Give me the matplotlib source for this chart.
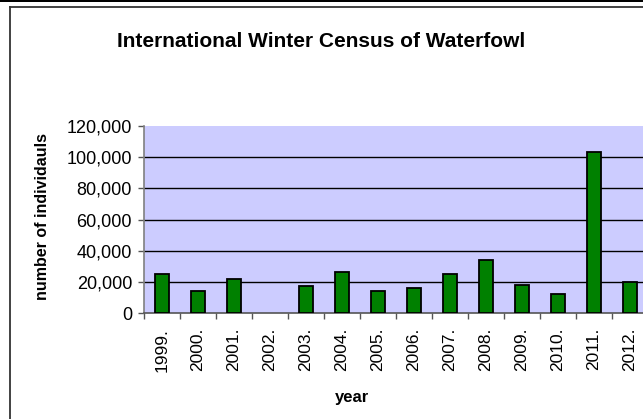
import matplotlib
matplotlib.use('Agg')
import matplotlib.pyplot as plt
import numpy as np
from matplotlib.lines import Line2D
from matplotlib.patches import Rectangle

years = ['1999.', '2000.', '2001.', '2002.', '2003.', '2004.', '2005.',
         '2006.', '2007.', '2008.', '2009.', '2010.', '2011.', '2012.']
# 2002 has no value
counts = [24900, 14600, 21900, np.nan, 17400, 26600, 14600,
          16300, 24900, 34400, 18300, 12600, 103200, 19900]
yticks = [0, 20000, 40000, 60000, 80000, 100000, 120000]

W, H = 643, 419
plt.rcParams['font.family'] = ['Liberation Sans', 'DejaVu Sans']

fig = plt.figure(figsize=(W / 100, H / 100), dpi=100, facecolor='white')

# plot area in pixels: left 144, top 126, zero line 313, 36 px per category
left, top, bottom = 144, 126, 313.3
step = 36
ax = fig.add_axes([left / W, (H - bottom) / H,
                   step * len(years) / W, (bottom - top) / H])
ax.set_facecolor('#CCCCFF')

x = np.arange(len(years))
ax.bar(x, counts, width=0.41, color='#008000', edgecolor='black',
       linewidth=1.3, zorder=3)

ax.set_xlim(-0.5, len(years) - 0.5)
ax.set_ylim(0, 120000)

# gridlines (none at the top value)
for v in yticks[1:-1]:
    ax.axhline(v, color='black', linewidth=1.0, zorder=1)

ax.set_yticks(yticks)
ax.set_yticklabels([f'{v:,}' for v in yticks], fontsize=13)
ax.tick_params(axis='y', direction='out', length=4.3, width=1,
               color='#555555', pad=4.3)

ax.set_xticks(x)
ax.set_xticklabels(years, rotation=90, fontsize=12.5, va='top', ha='center')
ax.set_xticks(np.arange(len(years) + 1) - 0.5, minor=True)
ax.tick_params(axis='x', which='major', length=0, pad=10.5)
ax.tick_params(axis='x', which='minor', direction='out', length=4.3,
               width=1, color='#555555')

for side in ['top', 'right']:
    ax.spines[side].set_visible(False)
ax.spines['left'].set_color('#808080')
ax.spines['bottom'].set_color('#555555')
ax.spines['left'].set_linewidth(1.2)
ax.spines['bottom'].set_linewidth(1.2)

fig.text(321 / W, 1 - 47 / H, 'International Winter Census of Waterfowl',
         ha='center', va='baseline', fontsize=15, fontweight='bold')
fig.text(43 / W, 1 - 217 / H, 'number of individauls', rotation=90,
         ha='center', va='center', fontsize=11.5, fontweight='bold')
fig.text(352 / W, 1 - 402 / H, 'year', ha='center', va='baseline',
         fontsize=12, fontweight='bold')

# chart frame (cropped on right and bottom)
fig.add_artist(Rectangle((0, 1 - 2 / H), 1, 2 / H, transform=fig.transFigure,
                         facecolor='black', edgecolor='none'))
fig.add_artist(Line2D([9.5 / W, 1], [1 - 7.5 / H, 1 - 7.5 / H],
                      transform=fig.transFigure, color='#333333', linewidth=1.3))
fig.add_artist(Line2D([9.5 / W, 9.5 / W], [0, 1 - 7.5 / H],
                      transform=fig.transFigure, color='#333333', linewidth=1.3))

fig.savefig('out.png', dpi=100)
